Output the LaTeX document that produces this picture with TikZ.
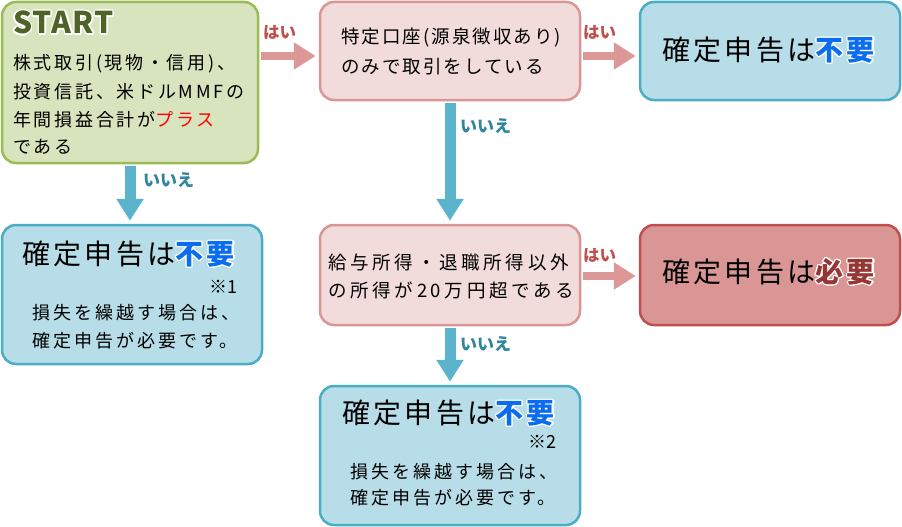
\documentclass[tikz,border=0pt]{standalone}
\usepackage{fontspec}
\setmainfont{Noto Sans CJK JP}
\newfontfamily\jpS[LetterSpace=15]{Noto Sans CJK JP}
\newfontfamily\jpQ[LetterSpace=11]{Noto Sans CJK JP}
\newfontfamily\jpM[LetterSpace=20]{Noto Sans CJK JP}
\newfontfamily\jpN[LetterSpace=17]{Noto Sans CJK JP}
\newfontfamily\jpB[LetterSpace=12]{Noto Sans CJK JP}
\newfontfamily\jpStart[LetterSpace=4]{Noto Sans CJK JP}
\usepackage[copies]{contour}
\contourlength{1.2pt}
\usetikzlibrary{arrows.meta}
\definecolor{greenfill}{HTML}{D7E4BD}
\definecolor{greenborder}{HTML}{9BBB59}
\definecolor{startc}{HTML}{4F6228}
\definecolor{pinkfill}{HTML}{F2DCDB}
\definecolor{pinkborder}{HTML}{D99694}
\definecolor{bluefill}{HTML}{B7DEE8}
\definecolor{blueborder}{HTML}{4BACC6}
\definecolor{redfill}{HTML}{DA9694}
\definecolor{redborder}{HTML}{C0504D}
\definecolor{haic}{HTML}{C0504D}
\definecolor{iiec}{HTML}{31859C}
\definecolor{fuyouc}{HTML}{0A6CF0}
\definecolor{hitsuyouc}{HTML}{953735}
\definecolor{pinkarrow}{HTML}{DB9896}
\definecolor{bluearrow}{HTML}{5BB3CC}
\tikzset{
  boxbase/.style={rounded corners=14pt, line width=2.5pt, inner sep=0pt},
  gbox/.style={boxbase, draw=greenborder, fill=greenfill},
  pbox/.style={boxbase, draw=pinkborder, fill=pinkfill},
  bbox/.style={boxbase, draw=blueborder, fill=bluefill},
  rbox/.style={boxbase, draw=redborder, fill=redfill},
  parrow/.style={draw=pinkarrow, line width=8.5pt, -{Triangle[length=22pt,width=26pt]}},
  barrow/.style={draw=bluearrow, line width=11pt, -{Triangle[length=22pt,width=26pt]}},
  txt/.style={inner sep=0pt, anchor=base west},
  small/.style={txt, font=\jpS\fontsize{18}{20}\selectfont},
  quest/.style={txt, font=\jpQ\fontsize{18.5}{20}\selectfont},
  mid/.style={txt, font=\jpM\fontsize{18.5}{20}\selectfont},
  big/.style={txt, font=\jpB\fontsize{28}{30}\selectfont},
  note/.style={txt, font=\jpN\fontsize{18}{20}\selectfont},
  hai/.style={txt, font=\bfseries\fontsize{16.5}{18}\selectfont, text=haic},
  iie/.style={txt, font=\bfseries\fontsize{17}{18}\selectfont, text=iiec},
}
\newcommand{\fuyou}{{\color{fuyouc}\bfseries\contour{white}{不要}}}
\newcommand{\hitsuyou}{{\color{hitsuyouc}\bfseries\contour{white}{必要}}}
\begin{document}
\begin{tikzpicture}[x=1pt,y=-1pt]
\useasboundingbox (0,0) rectangle (902,527);
% boxes
\node[gbox, minimum width=256pt, minimum height=161pt] (start) at (130,82.5) {};
\node[pbox, minimum width=260pt, minimum height=98pt] (b2) at (450,51) {};
\node[bbox, minimum width=260pt, minimum height=98pt] (b3) at (770,51) {};
\node[bbox, minimum width=260pt, minimum height=139pt] (b4) at (132,294.5) {};
\node[pbox, minimum width=260pt, minimum height=100pt] (b5) at (450,275) {};
\node[rbox, minimum width=260pt, minimum height=100pt] (b6) at (770,275) {};
\node[bbox, minimum width=260pt, minimum height=139pt] (b7) at (450,455.5) {};
% arrow rows
\coordinate (ya) at (0,56);
\coordinate (yb) at (0,276);
\coordinate (xa) at (130,0);
\coordinate (xb) at (450,0);
\draw[parrow] ([xshift=1.3pt]start.east |- ya) -- ([xshift=-3pt]b2.west |- ya);
\draw[parrow] ([xshift=1.3pt]b2.east |- ya) -- ([xshift=-3pt]b3.west |- ya);
\draw[parrow] ([xshift=1.3pt]b5.east |- yb) -- ([xshift=-3pt]b6.west |- yb);
\draw[barrow] ([yshift=-1.3pt]xa |- start.south) -- ([yshift=3pt]xa |- b4.north);
\draw[barrow] ([yshift=-1.3pt]xb |- b2.south) -- ([yshift=3pt]xb |- b5.north);
\draw[barrow] ([yshift=-1.3pt]xb |- b5.south) -- ([yshift=3pt]xb |- b7.north);
% labels
\node[hai] (h1) at (263,39) {はい};
\node[hai] (h2) at (583,39) {はい};
\node[hai] (h3) at (583,261) {はい};
\node[iie] (i1) at (143,186.5) {いいえ};
\node[iie] (i2) at (460,132.5) {いいえ};
\node[iie] (i3) at (460,350.5) {いいえ};
% START box text
\node[txt, font=\jpStart\bfseries\fontsize{30}{32}\selectfont, text=startc] (st) at (13,34) {\contour{white}{START}};
\node[small] (s1) at (13,69.5) {株式取引(現物・信用)、};
\node[small] (s2) at (13,98) {投資信託、米ドルMMFの};
\node[small] (s3) at (13,126) {年間損益合計が\textcolor{red}{プラス}};
\node[small] (s4) at (13,153.5) {である};
% box2
\node[quest] (q1) at (341,44) {特定口座(源泉徴収あり)};
\node[quest] (q2) at (341,74) {のみで取引をしている};
% box3
\node[big] (r3) at (662,60.5) {確定申告は\fuyou};
% box4
\node[big] (r4) at (22,264.5) {確定申告は\fuyou};
\node[inner sep=0pt, anchor=base east, font=\fontsize{18}{20}\selectfont] (n1) at (238,293.5) {※1};
\node[note] (n1a) at (32,319) {損失を繰越す場合は、};
\node[note] (n1b) at (32,347) {確定申告が必要です。};
% box5
\node[mid] (q3) at (328,269) {給与所得・退職所得以外};
\node[mid] (q4) at (328,297) {の所得が20万円超である};
% box6
\node[big] (r6) at (662,282.5) {確定申告は\hitsuyou};
% box7
\node[big] (r7) at (342,423.5) {確定申告は\fuyou};
\node[inner sep=0pt, anchor=base east, font=\fontsize{18}{20}\selectfont] (n2) at (557,448.5) {※2};
\node[note] (n2a) at (350,478) {損失を繰越す場合は、};
\node[note] (n2b) at (350,504) {確定申告が必要です。};
\end{tikzpicture}
\end{document}
